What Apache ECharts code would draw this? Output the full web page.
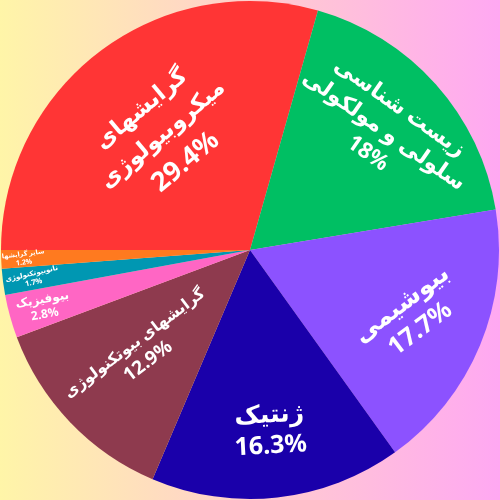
<!DOCTYPE html>
<html>
<head>
<meta charset="utf-8">
<script src="https://cdn.jsdelivr.net/npm/echarts@6/dist/echarts.min.js"></script>
<style>
html,body{margin:0;padding:0;width:500px;height:500px;overflow:hidden;}
#c{width:500px;height:500px;}
</style>
</head>
<body>
<div id="c"></div>
<script>
// Data
const categories = [
  'گرایشهای\nمیکروبیولوژی',
  'زیست شناسی\nسلولی و مولکولی',
  'بیوشیمی',
  'ژنتیک',
  'گرایشهای بیوتکنولوژی',
  'بیوفیزیک',
  'نانوبیوتکنولوژی',
  'سایر گرایشها'
];
const values = [29.4, 18, 17.7, 16.3, 12.9, 2.8, 1.7, 1.2];

// Styles
const colors = ['#ff3535', '#00bf63', '#8c52ff', '#1a00aa', '#8e3a4e', '#ff66c4', '#0097b2', '#ff7a1f'];
const labelRadiusFrac = [0.57, 0.72, 0.70, 0.73, 0.60, 0.86, 0.88, 0.91];
const labelRotate = [40, -35, 37, 3, 37, 10, 13, 7];
const nameFontSize = [23, 22, 25, 25, 15.5, 12, 7, 6.5];
const pctFontSize = [27, 22, 25, 25, 19, 12, 7.5, 7];
const lineGap = [1.45, 1.25, 1.25, 1.25, 1.3, 1.25, 1.25, 1.25];

const START = 180;
const total = values.reduce((a, b) => a + b, 0);
const midAngles = [];
let acc = 0;
values.forEach(v => { midAngles.push(START - 360 * (acc + v / 2) / total); acc += v; });

const chart = echarts.init(document.getElementById('c'), null, {renderer: 'canvas'});
const FONT = '"Noto Sans", "DejaVu Sans", sans-serif';

chart.setOption({
  backgroundColor: {
    type: 'linear', x: 0, y: 0, x2: 1, y2: 0,
    colorStops: [{offset: 0, color: '#fff5a8'}, {offset: 1, color: '#ffa8f2'}]
  },
  animation: false,
  series: [{
    type: 'pie',
    center: ['50%', '50%'],
    radius: ['0%', '99.6%'],
    startAngle: START,
    clockwise: true,
    avoidLabelOverlap: false,
    itemStyle: {borderWidth: 0},
    label: {
      show: true,
      position: 'inside',
      color: '#ffffff',
      fontFamily: FONT,
      fontWeight: 'bold',
      align: 'center',
      formatter: function (p) {
        return p.name.split('\n').map(s => '{n|' + s + '}').join('\n') + '\n{p|' + p.value + '%}';
      }
    },
    labelLine: {show: false},
    labelLayout: function (p) {
      const i = p.dataIndex;
      const w = chart.getWidth(), h = chart.getHeight();
      const r = Math.min(w, h) / 2 * 0.996;
      const a = midAngles[i] * Math.PI / 180;
      return {
        x: w / 2 + r * labelRadiusFrac[i] * Math.cos(a),
        y: h / 2 - r * labelRadiusFrac[i] * Math.sin(a),
        rotate: labelRotate[i],
        align: 'center',
        verticalAlign: 'middle'
      };
    },
    data: categories.map((name, i) => ({
      name: name,
      value: values[i],
      itemStyle: {color: colors[i]},
      label: {
        rich: {
          n: {fontSize: nameFontSize[i], lineHeight: Math.round(nameFontSize[i] * lineGap[i]), color: '#fff', fontWeight: 'bold', fontFamily: FONT},
          p: {fontSize: pctFontSize[i], lineHeight: Math.round(pctFontSize[i] * lineGap[i]), color: '#fff', fontWeight: 'bold', fontFamily: FONT}
        }
      }
    }))
  }]
});
</script>
</body>
</html>
